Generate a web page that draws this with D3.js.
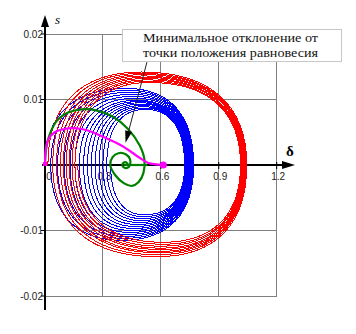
<!DOCTYPE html>
<html><head><meta charset="utf-8">
<script src="https://cdn.jsdelivr.net/npm/d3@7"></script>
<style>body{margin:0;background:#fff}svg{display:block}</style>
</head><body>
<svg id="c" width="356" height="334"></svg>
<script>
// ---- data ----
const deltaTicks = [0, 0.3, 0.6, 0.9, 1.2];
const deltaTickLabels = ["0", "0.3", "0.6", "0.9", "1.2"];
const sTicks = [0.02, 0.01, -0.01, -0.02];
const sTickLabels = ["0.02", "0.01", "-0.01", "-0.02"];

// blue spiral: extremes of each loop
const blueLeft  = [0.0, 0.03, 0.065, 0.10, 0.13, 0.155, 0.178, 0.20, 0.22, 0.24, 0.26, 0.28, 0.30, 0.32, 0.34];
const blueTopD  = [0.42, 0.43, 0.44, 0.45, 0.46, 0.47, 0.48, 0.49, 0.495, 0.50, 0.505, 0.51, 0.515, 0.52];
const blueTopS  = [0.0117, 0.0114, 0.0111, 0.0108, 0.0105, 0.0102, 0.0099, 0.0097, 0.0095, 0.0093, 0.0091, 0.0089, 0.0087, 0.0085];
const blueRight = [0.770, 0.766, 0.762, 0.758, 0.754, 0.750, 0.746, 0.742, 0.738, 0.735, 0.732, 0.729, 0.726, 0.723];
const blueBotD  = [0.40, 0.41, 0.42, 0.43, 0.44, 0.45, 0.46, 0.47, 0.48, 0.49, 0.50, 0.505, 0.51, 0.515];
const blueBotS  = [-0.0115, -0.0112, -0.0109, -0.0106, -0.0103, -0.0100, -0.0097, -0.0094, -0.0091, -0.0088, -0.0085, -0.0082, -0.0079, -0.0076];

// red spiral: extremes of each loop
const redLeft  = [0.015, 0.04, 0.06, 0.08, 0.095, 0.11, 0.125, 0.14, 0.155, 0.17];
const redTopD  = [0.50, 0.50, 0.51, 0.51, 0.52, 0.52, 0.53, 0.53, 0.54];
const redTopS  = [0.0142, 0.0140, 0.0138, 0.0136, 0.0134, 0.0132, 0.0130, 0.0128, 0.0126];
const redRight = [1.045, 1.041, 1.037, 1.033, 1.029, 1.025, 1.021, 1.017, 1.013];
const redBotD  = [0.58, 0.58, 0.59, 0.59, 0.60, 0.60, 0.60, 0.61, 0.61];
const redBotS  = [-0.0140, -0.0137, -0.0134, -0.0132, -0.0129, -0.0127, -0.0124, -0.0121, -0.0118];

// green trajectory
const greenD = [0.0, 0.004, 0.02, 0.06, 0.12, 0.19, 0.27, 0.35, 0.43, 0.49, 0.515, 0.51, 0.485, 0.45, 0.41, 0.365, 0.338, 0.35, 0.38, 0.42, 0.44, 0.44, 0.425, 0.41, 0.40, 0.41, 0.425, 0.43];
const greenS = [0.0, 0.002, 0.0043, 0.0067, 0.0080, 0.0085, 0.0083, 0.0074, 0.0055, 0.0030, 0.0008, -0.0012, -0.0026, -0.0032, -0.0028, -0.0016, 0.0, 0.0012, 0.0018, 0.0016, 0.0009, 0.0, -0.00045, -0.0004, 0.0, 0.0004, 0.0003, 0.0];
const greenLineD = [0.41, 0.53];
const greenLineS = [0.0, 0.0];

// magenta trajectory (minimal deviation)
const magD = [0.0, 0.003, 0.015, 0.05, 0.10, 0.165, 0.23, 0.30, 0.40, 0.50, 0.535, 0.575, 0.613];
const magS = [0.0, 0.002, 0.0038, 0.0050, 0.0055, 0.0056, 0.0052, 0.0043, 0.0029, 0.0009, 0.0003, 0.0001, 0.0];
const equilibrium = [0.613, 0.0];

const annoLines = ["Минимальное отклонение от", "точки положения равновесия"];

// ---- drawing ----
const svg = d3.select("#c");
const x = d3.scaleLinear().domain([0, 1.2]).range([45, 276.7]);
const y = d3.scaleLinear().domain([-0.02, 0.02]).range([296, 34]);

// grid
const g = svg.append("g").attr("stroke", "#808080").attr("stroke-width", 1).attr("shape-rendering", "crispEdges");
deltaTicks.filter(d => d > 0).forEach(d => {
  g.append("line").attr("x1", x(d)).attr("x2", x(d)).attr("y1", y(0.02)).attr("y2", y(-0.02));
});
sTicks.forEach(s => {
  g.append("line").attr("x1", x(0)).attr("x2", x(1.2)).attr("y1", y(s)).attr("y2", y(s));
});

// tick labels
const lab = svg.append("g").attr("font-family", "Liberation Sans, Arial, sans-serif").attr("font-size", 10).attr("fill", "#222");
sTicks.forEach((s, i) => {
  lab.append("text").attr("x", x(0) - 2).attr("y", y(s)).attr("dy", "0.35em").attr("text-anchor", "end").text(sTickLabels[i]);
});
deltaTicks.forEach((d, i) => {
  lab.append("text").attr("x", x(d) + (d === 0 ? 4 : 1.5)).attr("y", y(0) + 15).attr("text-anchor", "middle").text(deltaTickLabels[i]);
});

// spiral builder
function spiral(L, xT, T, R, xB, B, k) {
  const p = d3.path();
  const y0 = y(0);
  p.moveTo(x(L[0]), y0);
  for (let i = 0; i < xT.length; i++) {
    const x0 = x(L[i]);
    const x1 = x(xT[i]), y1 = y(T[i]);
    const x2 = x(R[i]);
    const x3 = x(xB[i]), y3 = y(B[i]);
    const x4 = x(L[i + 1]);
    p.bezierCurveTo(x0, y0 + k * (y1 - y0), x1 - k * (x1 - x0), y1, x1, y1);
    p.bezierCurveTo(x1 + k * (x2 - x1), y1, x2, y0 + k * (y1 - y0), x2, y0);
    p.bezierCurveTo(x2, y0 + k * (y3 - y0), x3 + k * (x2 - x3), y3, x3, y3);
    p.bezierCurveTo(x3 - k * (x3 - x4), y3, x4, y0 + k * (y3 - y0), x4, y0);
  }
  return p.toString();
}

// axes (under curves)
const ax = svg.append("g");
ax.append("line").attr("x1", x(0)).attr("x2", x(0)).attr("y1", 310).attr("y2", 26).attr("stroke", "#000").attr("stroke-width", 2);
ax.append("path").attr("d", `M${x(0)},15 L${x(0) - 4},27 L${x(0) + 4},27 Z`).attr("fill", "#000");
ax.append("line").attr("x1", 42).attr("x2", 284).attr("y1", y(0)).attr("y2", y(0)).attr("stroke", "#000").attr("stroke-width", 2);
ax.append("path").attr("d", `M295,${y(0)} L282,${y(0) - 4} L282,${y(0) + 4} Z`).attr("fill", "#000");
sTicks.forEach(s => {
  ax.append("line").attr("x1", x(0) - 4).attr("x2", x(0)).attr("y1", y(s)).attr("y2", y(s)).attr("stroke", "#000").attr("stroke-width", 1);
});
deltaTicks.filter(d => d > 0).forEach(d => {
  ax.append("line").attr("x1", x(d)).attr("x2", x(d)).attr("y1", y(0) - 3).attr("y2", y(0) + 4).attr("stroke", "#000").attr("stroke-width", 1);
});

// curves
svg.append("path").attr("d", spiral(blueLeft, blueTopD, blueTopS, blueRight, blueBotD, blueBotS, 0.65))
  .attr("fill", "none").attr("stroke", "#0000ff").attr("stroke-width", 1).attr("shape-rendering", "crispEdges");
svg.append("path").attr("d", spiral(redLeft, redTopD, redTopS, redRight, redBotD, redBotS, 0.65))
  .attr("fill", "none").attr("stroke", "#ff0000").attr("stroke-width", 1).attr("shape-rendering", "crispEdges");

const line = d3.line().x(d => x(d[0])).y(d => y(d[1])).curve(d3.curveCatmullRom.alpha(0.5));
svg.append("path").attr("d", line(greenD.map((d, i) => [d, greenS[i]])))
  .attr("fill", "none").attr("stroke", "#008000").attr("stroke-width", 2.2);
svg.append("path").attr("d", d3.line().x(d => x(d[0])).y(d => y(d[1]))(greenLineD.map((d, i) => [d, greenLineS[i]])))
  .attr("fill", "none").attr("stroke", "#008000").attr("stroke-width", 2.2);
svg.append("path").attr("d", line(magD.map((d, i) => [d, magS[i]])))
  .attr("fill", "none").attr("stroke", "#ff00ff").attr("stroke-width", 2.2);
svg.append("rect").attr("x", x(magD[0]) - 2).attr("y", y(magS[0]) - 3).attr("width", 4).attr("height", 4).attr("fill", "#ff00ff");
svg.append("circle").attr("cx", x(equilibrium[0])).attr("cy", y(equilibrium[1])).attr("r", 3.5).attr("fill", "#ff00ff");

// axis names
svg.append("text").attr("x", 55).attr("y", 24).attr("font-family", "Liberation Serif, serif").attr("font-style", "italic").attr("font-size", 13).text("s");
svg.append("text").attr("x", 286).attr("y", 156).attr("font-family", "Liberation Serif, serif").attr("font-weight", "bold").attr("font-size", 15).text("δ");

// annotation
svg.append("rect").attr("x", 122.5).attr("y", 29.5).attr("width", 219).attr("height", 32).attr("fill", "#fff").attr("stroke", "#c8c8c8");
annoLines.forEach((t, i) => {
  svg.append("text").attr("x", 143).attr("y", 42 + i * 14.5).attr("font-family", "Liberation Serif, serif").attr("font-size", 13)
    .attr("fill", "#111").attr("textLength", 175).attr("lengthAdjust", "spacingAndGlyphs").text(t);
});
const ax0 = x(0.528), ay0 = y(0.0157), ax1 = x(0.417), ay1 = y(0.0034);
const ang = Math.atan2(ay1 - ay0, ax1 - ax0);
const hl = 12, hw = 3.5;
const bx = ax1 - hl * Math.cos(ang), by = ay1 - hl * Math.sin(ang);
svg.append("line").attr("x1", ax0).attr("y1", ay0).attr("x2", bx).attr("y2", by).attr("stroke", "#222").attr("stroke-width", 1);
svg.append("path").attr("d", `M${ax1},${ay1} L${bx + hw * Math.sin(ang)},${by - hw * Math.cos(ang)} L${bx - hw * Math.sin(ang)},${by + hw * Math.cos(ang)} Z`).attr("fill", "#000");
</script>
</body></html>
